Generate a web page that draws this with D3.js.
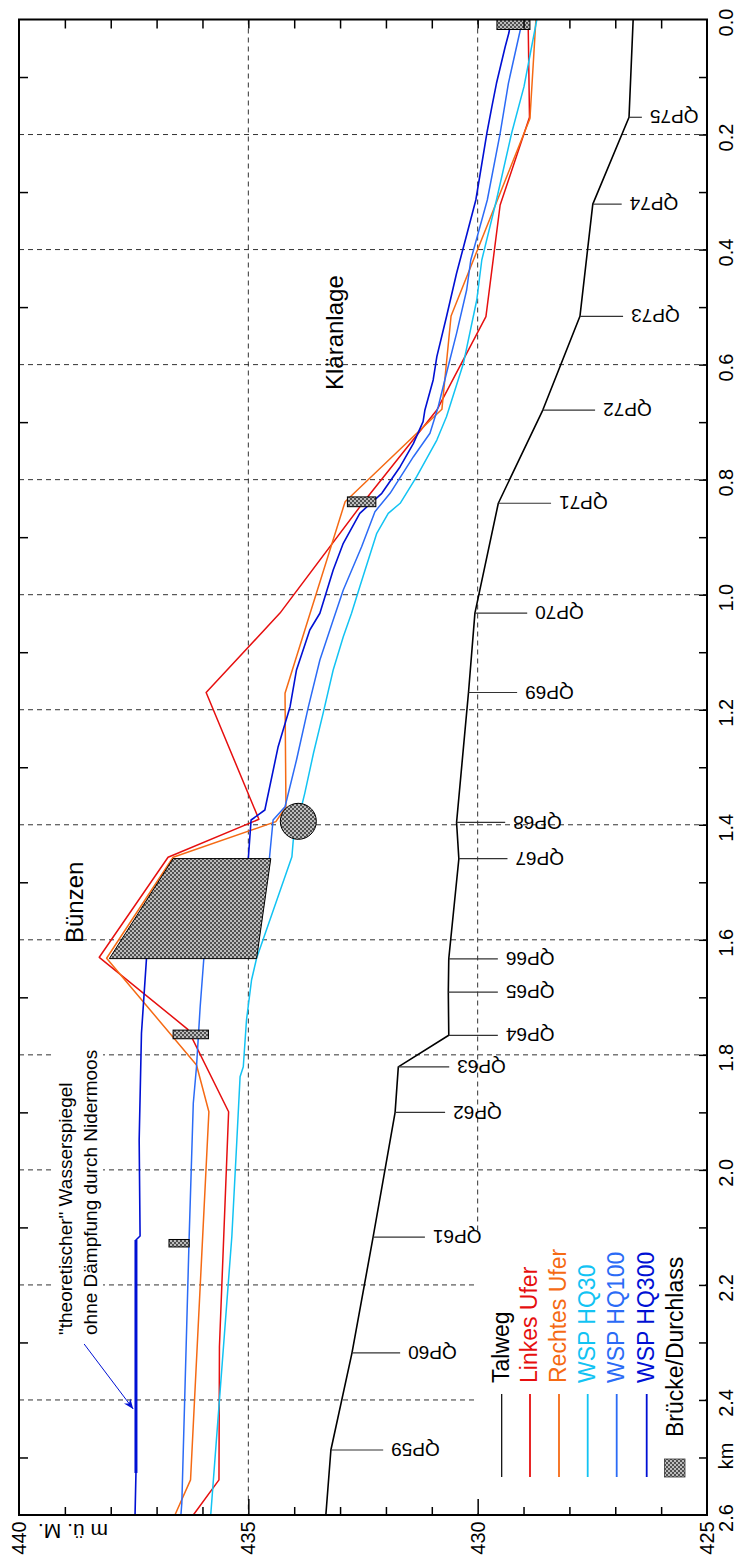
<!DOCTYPE html>
<html>
<head>
<meta charset="utf-8">
<script src="https://cdn.jsdelivr.net/npm/d3@7"></script>
<style>
html,body{margin:0;padding:0;background:#fff;}
svg{display:block;font-family:"Liberation Sans",Arial,sans-serif;}
</style>
</head>
<body>
<svg id="chart" width="737" height="1562"></svg>
<script>
// ---------------- DATA ----------------
const elevLabels = [440, 435, 430, 425];
const elevGrid = [435, 430];
const kmLabels = [0,0.2,0.4,0.6,0.8,1.0,1.2,1.4,1.6,1.8,2.0,2.2,2.4,2.6];
const kmGrid = [0.2,0.4,0.6,0.8,1.0,1.2,1.4,1.6,1.8,2.0,2.2,2.4];

const qpNames = ["QP75","QP74","QP73","QP72","QP71","QP70","QP69","QP68","QP67","QP66","QP65","QP64","QP63","QP62","QP61","QP60","QP59"];
const qpKm    = [0.170,0.321,0.516,0.679,0.841,1.032,1.170,1.396,1.459,1.633,1.691,1.766,1.821,1.900,2.117,2.318,2.487];
const qpBed   = [426.70,427.49,427.77,428.58,429.55,430.06,430.20,430.46,430.41,430.63,430.64,430.63,431.73,431.80,432.28,432.74,433.20];
const qpLeaderEnd = [426.42,426.86,426.83,427.44,428.40,428.92,429.14,429.40,429.35,429.56,429.56,429.56,430.62,430.71,431.15,431.69,432.06];

const talweg = [[0,426.61]].concat(qpKm.map((k,i)=>[k,qpBed[i]])).concat([[2.6,433.31]]);

const linkesUfer = [[0,428.90],[0.170,428.87],[0.3225,429.51],[0.5167,429.82],[0.679,430.89],[0.840,432.50],[1.032,434.31],[1.170,435.92],[1.3905,434.77],[1.4565,436.75],[1.6304,438.25],[1.7556,436.32],[1.899,435.43],[2.307,435.63],[2.539,435.64],[2.6,436.20]];

const rechtesUfer = [[0,428.73],[0.172,428.86],[0.5155,430.58],[0.6777,430.78],[0.8383,432.89],[1.1714,434.20],[1.3686,434.18],[1.3946,434.40],[1.4565,436.64],[1.6321,438.09],[1.8176,436.13],[1.899,435.86],[2.539,436.26],[2.6,436.60]];

const wspHQ30 = [[0,428.71],[0.1168,428.99],[0.1978,429.26],[0.3138,429.59],[0.4181,429.91],[0.4877,430.02],[0.5977,430.31],[0.6906,430.68],[0.7311,430.89],[0.7948,431.33],[0.8411,431.69],[0.8585,431.95],[0.8932,432.20],[0.9861,432.57],[1.0323,432.75],[1.0730,432.93],[1.1309,433.15],[1.2062,433.37],[1.2757,433.58],[1.3453,433.77],[1.4264,434.02],[1.4555,434.05],[1.6321,434.82],[1.6699,434.93],[1.7394,435.04],[1.8206,435.11],[1.8380,435.18],[1.9480,435.25],[2.1162,435.36],[2.6,435.82]];

const wspHQ100 = [[0,429.02],[0.1109,429.33],[0.1978,429.51],[0.3138,429.79],[0.4181,430.15],[0.4703,430.24],[0.5456,430.46],[0.6151,430.68],[0.6732,430.86],[0.7194,431.04],[0.7601,431.40],[0.8237,431.91],[0.8557,432.24],[0.9166,432.53],[0.9918,432.93],[1.0440,433.15],[1.1135,433.44],[1.1947,433.69],[1.2874,433.95],[1.3686,434.20],[1.3917,434.46],[1.4583,434.54],[1.6321,435.97],[1.7163,436.05],[1.8206,436.13],[1.8842,436.20],[2.1162,436.29],[2.5792,436.45],[2.6,436.47]];

const wspHQ300 = [[0,429.27],[0.0235,429.32],[0.0473,429.40],[0.1109,429.59],[0.1516,429.69],[0.1978,429.80],[0.3138,430.04],[0.3717,430.23],[0.4412,430.46],[0.5167,430.68],[0.5862,430.89],[0.6267,430.97],[0.6789,431.15],[0.6992,431.19],[0.7368,431.40],[0.7775,431.69],[0.8237,432.09],[0.8585,432.57],[0.9106,432.93],[0.9571,433.15],[1.0323,433.44],[1.0614,433.66],[1.1309,433.95],[1.1947,434.09],[1.2642,434.35],[1.3743,434.64],[1.3917,434.94],[1.4583,435.00],[1.6321,437.22],[1.7625,437.33],[1.9480,437.38],[2.1149,437.36],[2.1219,437.45],[2.5269,437.45],[2.6,437.47]];

const theoretisch = [[2.1219,437.45],[2.5269,437.45]];
const arrowLine = [[2.3027,438.58],[2.4157,437.51]];

const bridges = [
  [0.0, 0.0174, 429.58, 428.86],
  [0.830, 0.847, 432.84, 432.22],
  [1.757, 1.772, 436.64, 435.87],
  [2.121, 2.134, 436.73, 436.29]
];
const buenzen = [[1.4588,436.64],[1.4588,434.51],[1.6327,434.82],[1.6327,438.03]];
const wehr = [1.394, 433.91];

const legendNames = ["Talweg","Linkes Ufer","Rechtes Ufer","WSP HQ30","WSP HQ100","WSP HQ300"];
const legendColors = ["#000000","#e60f0f","#f56a14","#12c3f3","#2b6bf6","#0010d4"];

// ---------------- CHART ----------------
const svg = d3.select("#chart");
const x = d3.scaleLinear().domain([440,425]).range([19,707]);
const y = d3.scaleLinear().domain([0,2.6]).range([19.5,1515]);
const [X0,X1] = x.range(), [Y0,Y1] = y.range();

const defs = svg.append("defs");
const pat = defs.append("pattern").attr("id","hatch").attr("width",4).attr("height",4).attr("patternUnits","userSpaceOnUse");
pat.append("rect").attr("width",4).attr("height",4).attr("fill","#bcbcbc");
pat.append("rect").attr("x",0).attr("y",0).attr("width",2).attr("height",2).attr("fill","#505050");
pat.append("rect").attr("x",2).attr("y",2).attr("width",2).attr("height",2).attr("fill","#505050");
const mk = defs.append("marker").attr("id","arrow").attr("viewBox","0 0 10 10").attr("refX",10).attr("refY",5)
  .attr("markerWidth",14).attr("markerHeight",10).attr("markerUnits","userSpaceOnUse").attr("orient","auto");
mk.append("path").attr("d","M0,1 L10,5 L0,9 L3,5 Z").attr("fill","#0010d4");

// grid
const grid = svg.append("g").attr("stroke","#333").attr("stroke-width",1).attr("stroke-dasharray","5,4");
grid.selectAll("line.h").data(kmGrid).join("line").attr("x1",X0).attr("x2",X1).attr("y1",d=>y(d)).attr("y2",d=>y(d));
grid.selectAll("line.v").data(elevGrid).join("line").attr("class","v").attr("y1",Y0).attr("y2",Y1).attr("x1",d=>x(d)).attr("x2",d=>x(d));

// legend + annotation backgrounds (hide grid)
svg.append("rect").attr("x",474).attr("y",1232).attr("width",231).attr("height",281).attr("fill","#fff");
svg.append("rect").attr("x",52).attr("y",1044).attr("width",51).attr("height",294).attr("fill","#fff");

// lines
const line = d3.line().x(d=>x(d[1])).y(d=>y(d[0]));
const series = [
  [talweg,"#000000",1.6],
  [linkesUfer,legendColors[1],1.5],
  [rechtesUfer,legendColors[2],1.5],
  [wspHQ30,legendColors[3],1.5],
  [wspHQ100,legendColors[4],1.5],
  [wspHQ300,legendColors[5],1.6]
];
svg.append("g").selectAll("path").data(series).join("path")
  .attr("d",d=>line(d[0])).attr("fill","none").attr("stroke",d=>d[1]).attr("stroke-width",d=>d[2]).attr("stroke-linejoin","round");
svg.append("path").attr("d",line(theoretisch)).attr("fill","none").attr("stroke","#0010d4").attr("stroke-width",3);

// structures
svg.append("path").attr("d",line(buenzen)+"Z").attr("fill","url(#hatch)").attr("stroke","#000").attr("stroke-width",1);
svg.append("circle").attr("cx",x(wehr[1])).attr("cy",y(wehr[0])).attr("r",18).attr("fill","url(#hatch)").attr("stroke","#000").attr("stroke-width",1);
svg.append("g").selectAll("rect").data(bridges).join("rect")
  .attr("x",d=>x(d[2])).attr("y",d=>y(d[0])).attr("width",d=>x(d[3])-x(d[2])).attr("height",d=>y(d[1])-y(d[0]))
  .attr("fill","url(#hatch)").attr("stroke","#000").attr("stroke-width",1);

// QP labels
const qp = svg.append("g");
qp.selectAll("line").data(qpKm).join("line")
  .attr("x1",(d,i)=>x(qpBed[i])).attr("x2",(d,i)=>x(qpLeaderEnd[i])).attr("y1",d=>y(d)).attr("y2",d=>y(d))
  .attr("stroke","#333").attr("stroke-width",1.2);
qp.selectAll("text").data(qpNames).join("text")
  .attr("transform",(d,i)=>`translate(${x(qpLeaderEnd[i])+8},${y(qpKm[i])-6.8}) rotate(180)`)
  .attr("text-anchor","end").attr("font-size",19).attr("fill","#000").text(d=>d);

// annotation arrow
svg.append("path").attr("d",line(arrowLine)).attr("stroke","#0010d4").attr("stroke-width",1).attr("fill","none").attr("marker-end","url(#arrow)");

// frame
svg.append("rect").attr("x",X0).attr("y",Y0).attr("width",X1-X0).attr("height",Y1-Y0).attr("fill","none").attr("stroke","#000").attr("stroke-width",2);

// ticks via axes
const minorElev = d3.range(426,440);
const minorKm = d3.range(1,26,2).map(d=>d/10);
svg.append("g").attr("transform",`translate(0,${Y1})`).call(d3.axisBottom(x).tickValues(minorElev).tickSize(-8).tickFormat(""))
  .call(g=>{g.select(".domain").remove(); g.selectAll("line").attr("stroke-width",1.5).filter(d=>d%5===0).attr("y2",-16);});
svg.append("g").attr("transform",`translate(0,${Y0})`).call(d3.axisTop(x).tickValues(minorElev).tickSize(-9).tickFormat(""))
  .call(g=>{g.select(".domain").remove(); g.selectAll("line").attr("stroke-width",1.5);});
svg.append("g").attr("transform",`translate(${X0},0)`).call(d3.axisLeft(y).tickValues(minorKm).tickSize(-9).tickFormat(""))
  .call(g=>{g.select(".domain").remove(); g.selectAll("line").attr("stroke-width",1.5);});
svg.append("g").attr("transform",`translate(${X1},0)`).call(d3.axisRight(y).tickValues(minorKm.concat(kmGrid)).tickSize(-8).tickFormat(""))
  .call(g=>{g.select(".domain").remove(); g.selectAll("line").attr("stroke-width",1.5);});

// tick labels
svg.append("g").selectAll("text").data(kmLabels).join("text")
  .attr("transform",d=>`translate(726,${y(d)+3}) rotate(-90)`).attr("text-anchor","middle").attr("dy","0.35em")
  .attr("font-size",20).text(d=>d.toFixed(1));
svg.append("g").selectAll("text").data(elevLabels).join("text")
  .attr("transform",d=>`translate(${x(d)},1538) rotate(-90)`).attr("text-anchor","middle").attr("dy","0.35em")
  .attr("font-size",20).text(d=>d);
svg.append("text").attr("transform","translate(726,1456) rotate(-90)").attr("text-anchor","middle").attr("dy","0.35em")
  .attr("font-size",20).text("km");
svg.append("text").attr("transform","translate(108,1524) rotate(180)").attr("text-anchor","start")
  .attr("font-size",21).text("m ü. M.");

// place labels
svg.append("text").attr("transform","translate(343,390) rotate(-90)").attr("font-size",24).text("Kläranlage");
svg.append("text").attr("transform","translate(83,943) rotate(-90)").attr("font-size",24).text("Bünzen");
svg.append("text").attr("transform","translate(72,1335) rotate(-90)").attr("font-size",19).text("\"theoretischer\" Wasserspiegel");
svg.append("text").attr("transform","translate(97,1335) rotate(-90)").attr("font-size",19).text("ohne Dämpfung durch Nidermoos");

// legend
const legX = [501.7,530,559,587.7,616.7,646.7];
const lg = svg.append("g");
lg.selectAll("line").data(legendNames).join("line")
  .attr("x1",(d,i)=>legX[i]).attr("x2",(d,i)=>legX[i]).attr("y1",1394).attr("y2",1477)
  .attr("stroke",(d,i)=>legendColors[i]).attr("stroke-width",(d,i)=>i===0?1.2:1.8);
lg.selectAll("text").data(legendNames).join("text")
  .attr("transform",(d,i)=>`translate(${legX[i]+7},1383) rotate(-90)`)
  .attr("font-size",23).attr("fill",(d,i)=>legendColors[i]).text(d=>d);
lg.append("rect").attr("x",664.5).attr("y",1459).attr("width",20.5).attr("height",18).attr("fill","url(#hatch)").attr("stroke","#333").attr("stroke-width",0.8);
lg.append("text").attr("transform","translate(683,1437) rotate(-90)").attr("font-size",23).text("Brücke/Durchlass");
</script>
</body>
</html>
